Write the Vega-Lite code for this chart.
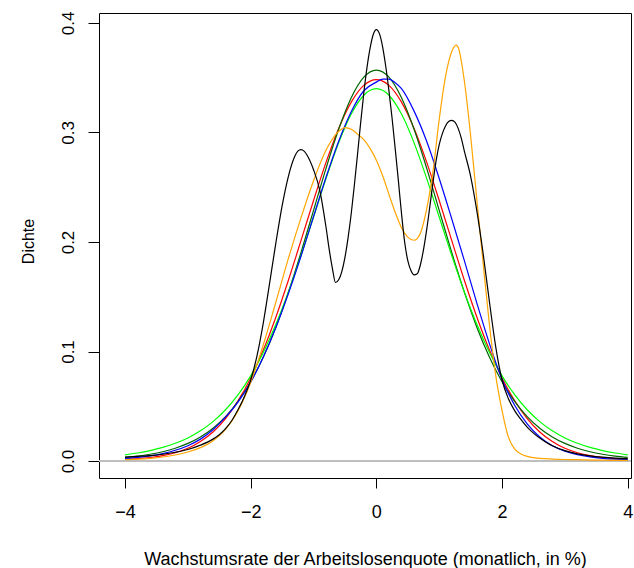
{
  "$schema": "https://vega.github.io/schema/vega-lite/v6.json",
  "width": 532,
  "height": 465,
  "autosize": "none",
  "padding": {"left": 99, "top": 13, "right": 3, "bottom": 90},
  "background": "white",
  "config": {"font": "Liberation Sans", "view": {"stroke": "black", "strokeWidth": 1}},
  "data": {"values": [
    {"x": -4.0, "y": 0.0016, "c": "red"}, {"x": -3.8, "y": 0.0022, "c": "red"}, {"x": -3.6, "y": 0.0032, "c": "red"}, {"x": -3.4, "y": 0.0049, "c": "red"}, {"x": -3.2, "y": 0.0076, "c": "red"}, {"x": -3.0, "y": 0.0116, "c": "red"}, {"x": -2.8, "y": 0.0178, "c": "red"}, {"x": -2.6, "y": 0.0265, "c": "red"}, {"x": -2.4, "y": 0.0388, "c": "red"}, {"x": -2.2, "y": 0.0551, "c": "red"}, {"x": -2.0, "y": 0.0759, "c": "red"}, {"x": -1.8, "y": 0.1013, "c": "red"}, {"x": -1.6, "y": 0.1313, "c": "red"}, {"x": -1.4, "y": 0.1651, "c": "red"}, {"x": -1.2, "y": 0.2012, "c": "red"}, {"x": -1.0, "y": 0.2379, "c": "red"}, {"x": -0.8, "y": 0.2729, "c": "red"}, {"x": -0.6, "y": 0.3037, "c": "red"}, {"x": -0.4, "y": 0.3277, "c": "red"}, {"x": -0.2, "y": 0.3430, "c": "red"}, {"x": 0.0, "y": 0.3483, "c": "red"}, {"x": 0.2, "y": 0.3430, "c": "red"}, {"x": 0.4, "y": 0.3277, "c": "red"}, {"x": 0.6, "y": 0.3037, "c": "red"}, {"x": 0.8, "y": 0.2729, "c": "red"}, {"x": 1.0, "y": 0.2379, "c": "red"}, {"x": 1.2, "y": 0.2012, "c": "red"}, {"x": 1.4, "y": 0.1651, "c": "red"}, {"x": 1.6, "y": 0.1313, "c": "red"}, {"x": 1.8, "y": 0.1013, "c": "red"}, {"x": 2.0, "y": 0.0759, "c": "red"}, {"x": 2.2, "y": 0.0551, "c": "red"}, {"x": 2.4, "y": 0.0388, "c": "red"}, {"x": 2.6, "y": 0.0265, "c": "red"}, {"x": 2.8, "y": 0.0178, "c": "red"}, {"x": 3.0, "y": 0.0116, "c": "red"}, {"x": 3.2, "y": 0.0076, "c": "red"}, {"x": 3.4, "y": 0.0049, "c": "red"}, {"x": 3.6, "y": 0.0032, "c": "red"}, {"x": 3.8, "y": 0.0022, "c": "red"}, {"x": 4.0, "y": 0.0016, "c": "red"},

    {"x": -4.0, "y": 0.0033, "c": "darkgreen"}, {"x": -3.8, "y": 0.0045, "c": "darkgreen"}, {"x": -3.6, "y": 0.0062, "c": "darkgreen"}, {"x": -3.4, "y": 0.0085, "c": "darkgreen"}, {"x": -3.2, "y": 0.0117, "c": "darkgreen"}, {"x": -3.0, "y": 0.0161, "c": "darkgreen"}, {"x": -2.8, "y": 0.0220, "c": "darkgreen"}, {"x": -2.6, "y": 0.0300, "c": "darkgreen"}, {"x": -2.4, "y": 0.0406, "c": "darkgreen"}, {"x": -2.2, "y": 0.0545, "c": "darkgreen"}, {"x": -2.0, "y": 0.0724, "c": "darkgreen"}, {"x": -1.8, "y": 0.0948, "c": "darkgreen"}, {"x": -1.6, "y": 0.1220, "c": "darkgreen"}, {"x": -1.4, "y": 0.1542, "c": "darkgreen"}, {"x": -1.2, "y": 0.1903, "c": "darkgreen"}, {"x": -1.0, "y": 0.2289, "c": "darkgreen"}, {"x": -0.8, "y": 0.2675, "c": "darkgreen"}, {"x": -0.6, "y": 0.3029, "c": "darkgreen"}, {"x": -0.4, "y": 0.3317, "c": "darkgreen"}, {"x": -0.2, "y": 0.3505, "c": "darkgreen"}, {"x": 0.0, "y": 0.3570, "c": "darkgreen"}, {"x": 0.2, "y": 0.3505, "c": "darkgreen"}, {"x": 0.4, "y": 0.3317, "c": "darkgreen"}, {"x": 0.6, "y": 0.3029, "c": "darkgreen"}, {"x": 0.8, "y": 0.2675, "c": "darkgreen"}, {"x": 1.0, "y": 0.2289, "c": "darkgreen"}, {"x": 1.2, "y": 0.1903, "c": "darkgreen"}, {"x": 1.4, "y": 0.1542, "c": "darkgreen"}, {"x": 1.6, "y": 0.1220, "c": "darkgreen"}, {"x": 1.8, "y": 0.0948, "c": "darkgreen"}, {"x": 2.0, "y": 0.0724, "c": "darkgreen"}, {"x": 2.2, "y": 0.0545, "c": "darkgreen"}, {"x": 2.4, "y": 0.0406, "c": "darkgreen"}, {"x": 2.6, "y": 0.0300, "c": "darkgreen"}, {"x": 2.8, "y": 0.0220, "c": "darkgreen"}, {"x": 3.0, "y": 0.0161, "c": "darkgreen"}, {"x": 3.2, "y": 0.0117, "c": "darkgreen"}, {"x": 3.4, "y": 0.0085, "c": "darkgreen"}, {"x": 3.6, "y": 0.0062, "c": "darkgreen"}, {"x": 3.8, "y": 0.0045, "c": "darkgreen"}, {"x": 4.0, "y": 0.0033, "c": "darkgreen"},

    {"x": -4.0, "y": 0.0057, "c": "green"}, {"x": -3.8, "y": 0.0073, "c": "green"}, {"x": -3.6, "y": 0.0095, "c": "green"}, {"x": -3.4, "y": 0.0124, "c": "green"}, {"x": -3.2, "y": 0.0162, "c": "green"}, {"x": -3.0, "y": 0.0211, "c": "green"}, {"x": -2.8, "y": 0.0276, "c": "green"}, {"x": -2.6, "y": 0.0360, "c": "green"}, {"x": -2.4, "y": 0.0468, "c": "green"}, {"x": -2.2, "y": 0.0606, "c": "green"}, {"x": -2.0, "y": 0.0778, "c": "green"}, {"x": -1.8, "y": 0.0991, "c": "green"}, {"x": -1.6, "y": 0.1246, "c": "green"}, {"x": -1.4, "y": 0.1543, "c": "green"}, {"x": -1.2, "y": 0.1875, "c": "green"}, {"x": -1.0, "y": 0.2228, "c": "green"}, {"x": -0.8, "y": 0.2581, "c": "green"}, {"x": -0.6, "y": 0.2905, "c": "green"}, {"x": -0.4, "y": 0.3168, "c": "green"}, {"x": -0.2, "y": 0.3340, "c": "green"}, {"x": 0.0, "y": 0.3400, "c": "green"}, {"x": 0.2, "y": 0.3340, "c": "green"}, {"x": 0.4, "y": 0.3168, "c": "green"}, {"x": 0.6, "y": 0.2905, "c": "green"}, {"x": 0.8, "y": 0.2581, "c": "green"}, {"x": 1.0, "y": 0.2228, "c": "green"}, {"x": 1.2, "y": 0.1875, "c": "green"}, {"x": 1.4, "y": 0.1543, "c": "green"}, {"x": 1.6, "y": 0.1246, "c": "green"}, {"x": 1.8, "y": 0.0991, "c": "green"}, {"x": 2.0, "y": 0.0778, "c": "green"}, {"x": 2.2, "y": 0.0606, "c": "green"}, {"x": 2.4, "y": 0.0468, "c": "green"}, {"x": 2.6, "y": 0.0360, "c": "green"}, {"x": 2.8, "y": 0.0276, "c": "green"}, {"x": 3.0, "y": 0.0211, "c": "green"}, {"x": 3.2, "y": 0.0162, "c": "green"}, {"x": 3.4, "y": 0.0124, "c": "green"}, {"x": 3.6, "y": 0.0095, "c": "green"}, {"x": 3.8, "y": 0.0073, "c": "green"}, {"x": 4.0, "y": 0.0057, "c": "green"},

    {"x": -4.0, "y": 0.0023, "c": "blue"}, {"x": -3.8, "y": 0.0033, "c": "blue"}, {"x": -3.6, "y": 0.0047, "c": "blue"}, {"x": -3.4, "y": 0.0068, "c": "blue"}, {"x": -3.2, "y": 0.0098, "c": "blue"}, {"x": -3.0, "y": 0.0140, "c": "blue"}, {"x": -2.8, "y": 0.0200, "c": "blue"}, {"x": -2.6, "y": 0.0285, "c": "blue"}, {"x": -2.4, "y": 0.0400, "c": "blue"}, {"x": -2.2, "y": 0.0540, "c": "blue"}, {"x": -2.0, "y": 0.0720, "c": "blue"}, {"x": -1.8, "y": 0.0950, "c": "blue"}, {"x": -1.6, "y": 0.1220, "c": "blue"}, {"x": -1.4, "y": 0.1530, "c": "blue"}, {"x": -1.2, "y": 0.1870, "c": "blue"}, {"x": -1.0, "y": 0.2233, "c": "blue"}, {"x": -0.8, "y": 0.2593, "c": "blue"}, {"x": -0.6, "y": 0.2920, "c": "blue"}, {"x": -0.4, "y": 0.3190, "c": "blue"}, {"x": -0.2, "y": 0.3381, "c": "blue"}, {"x": 0.0, "y": 0.3460, "c": "blue"}, {"x": 0.1, "y": 0.3487, "c": "blue"}, {"x": 0.2, "y": 0.3487, "c": "blue"}, {"x": 0.3, "y": 0.3455, "c": "blue"}, {"x": 0.4, "y": 0.3400, "c": "blue"}, {"x": 0.6, "y": 0.3195, "c": "blue"}, {"x": 0.8, "y": 0.2920, "c": "blue"}, {"x": 1.0, "y": 0.2580, "c": "blue"}, {"x": 1.2, "y": 0.2210, "c": "blue"}, {"x": 1.4, "y": 0.1830, "c": "blue"}, {"x": 1.6, "y": 0.1440, "c": "blue"}, {"x": 1.8, "y": 0.1070, "c": "blue"}, {"x": 2.0, "y": 0.0745, "c": "blue"}, {"x": 2.2, "y": 0.0510, "c": "blue"}, {"x": 2.4, "y": 0.0340, "c": "blue"}, {"x": 2.6, "y": 0.0220, "c": "blue"}, {"x": 2.8, "y": 0.0140, "c": "blue"}, {"x": 3.0, "y": 0.0090, "c": "blue"}, {"x": 3.2, "y": 0.0058, "c": "blue"}, {"x": 3.4, "y": 0.0038, "c": "blue"}, {"x": 3.6, "y": 0.0025, "c": "blue"}, {"x": 3.8, "y": 0.0017, "c": "blue"}, {"x": 4.0, "y": 0.0012, "c": "blue"},

    {"x": -4.0, "y": 0.0012, "c": "orange"}, {"x": -3.8, "y": 0.0017, "c": "orange"}, {"x": -3.6, "y": 0.0025, "c": "orange"}, {"x": -3.4, "y": 0.0037, "c": "orange"}, {"x": -3.2, "y": 0.0055, "c": "orange"}, {"x": -3.0, "y": 0.0082, "c": "orange"}, {"x": -2.8, "y": 0.0122, "c": "orange"}, {"x": -2.6, "y": 0.0185, "c": "orange"}, {"x": -2.4, "y": 0.0290, "c": "orange"}, {"x": -2.2, "y": 0.0460, "c": "orange"}, {"x": -2.0, "y": 0.0720, "c": "orange"}, {"x": -1.8, "y": 0.1060, "c": "orange"}, {"x": -1.6, "y": 0.1450, "c": "orange"}, {"x": -1.4, "y": 0.1850, "c": "orange"}, {"x": -1.2, "y": 0.2220, "c": "orange"}, {"x": -1.0, "y": 0.2560, "c": "orange"}, {"x": -0.8, "y": 0.2840, "c": "orange"}, {"x": -0.6, "y": 0.3010, "c": "orange"}, {"x": -0.5, "y": 0.3045, "c": "orange"}, {"x": -0.4, "y": 0.3030, "c": "orange"}, {"x": -0.3, "y": 0.2985, "c": "orange"}, {"x": -0.2, "y": 0.2935, "c": "orange"}, {"x": -0.1, "y": 0.2855, "c": "orange"}, {"x": 0.0, "y": 0.2746, "c": "orange"}, {"x": 0.1, "y": 0.2605, "c": "orange"}, {"x": 0.2, "y": 0.2435, "c": "orange"}, {"x": 0.3, "y": 0.2270, "c": "orange"}, {"x": 0.4, "y": 0.2130, "c": "orange"}, {"x": 0.5, "y": 0.2045, "c": "orange"}, {"x": 0.6, "y": 0.2016, "c": "orange"}, {"x": 0.7, "y": 0.2080, "c": "orange"}, {"x": 0.8, "y": 0.2300, "c": "orange"}, {"x": 0.9, "y": 0.2640, "c": "orange"}, {"x": 1.0, "y": 0.3120, "c": "orange"}, {"x": 1.1, "y": 0.3510, "c": "orange"}, {"x": 1.2, "y": 0.3740, "c": "orange"}, {"x": 1.27, "y": 0.3797, "c": "orange"}, {"x": 1.3, "y": 0.3780, "c": "orange"}, {"x": 1.4, "y": 0.3470, "c": "orange"}, {"x": 1.5, "y": 0.2970, "c": "orange"}, {"x": 1.6, "y": 0.2380, "c": "orange"}, {"x": 1.7, "y": 0.1800, "c": "orange"}, {"x": 1.8, "y": 0.1240, "c": "orange"}, {"x": 1.9, "y": 0.0780, "c": "orange"}, {"x": 2.0, "y": 0.0460, "c": "orange"}, {"x": 2.1, "y": 0.0220, "c": "orange"}, {"x": 2.2, "y": 0.0110, "c": "orange"}, {"x": 2.3, "y": 0.0065, "c": "orange"}, {"x": 2.4, "y": 0.0042, "c": "orange"}, {"x": 2.6, "y": 0.0025, "c": "orange"}, {"x": 2.8, "y": 0.0018, "c": "orange"}, {"x": 3.0, "y": 0.0014, "c": "orange"}, {"x": 3.2, "y": 0.0012, "c": "orange"}, {"x": 3.5, "y": 0.0009, "c": "orange"}, {"x": 4.0, "y": 0.0006, "c": "orange"},

    {"x": -4.0, "y": 0.0035, "c": "black"}, {"x": -3.8, "y": 0.0042, "c": "black"}, {"x": -3.6, "y": 0.0050, "c": "black"}, {"x": -3.4, "y": 0.0062, "c": "black"}, {"x": -3.2, "y": 0.0080, "c": "black"}, {"x": -3.0, "y": 0.0105, "c": "black"}, {"x": -2.8, "y": 0.0145, "c": "black"}, {"x": -2.6, "y": 0.0200, "c": "black"}, {"x": -2.5, "y": 0.0240, "c": "black"}, {"x": -2.4, "y": 0.0295, "c": "black"}, {"x": -2.3, "y": 0.0370, "c": "black"}, {"x": -2.2, "y": 0.0470, "c": "black"}, {"x": -2.1, "y": 0.0590, "c": "black"}, {"x": -2.0, "y": 0.0740, "c": "black"}, {"x": -1.9, "y": 0.0960, "c": "black"}, {"x": -1.8, "y": 0.1260, "c": "black"}, {"x": -1.7, "y": 0.1620, "c": "black"}, {"x": -1.6, "y": 0.1990, "c": "black"}, {"x": -1.5, "y": 0.2330, "c": "black"}, {"x": -1.4, "y": 0.2600, "c": "black"}, {"x": -1.3, "y": 0.2780, "c": "black"}, {"x": -1.25, "y": 0.2830, "c": "black"}, {"x": -1.2, "y": 0.2844, "c": "black"}, {"x": -1.15, "y": 0.2830, "c": "black"}, {"x": -1.1, "y": 0.2790, "c": "black"}, {"x": -1.0, "y": 0.2660, "c": "black"}, {"x": -0.9, "y": 0.2470, "c": "black"}, {"x": -0.8, "y": 0.2130, "c": "black"}, {"x": -0.75, "y": 0.1930, "c": "black"}, {"x": -0.7, "y": 0.1760, "c": "black"}, {"x": -0.65, "y": 0.1630, "c": "black"}, {"x": -0.6, "y": 0.1655, "c": "black"}, {"x": -0.55, "y": 0.1730, "c": "black"}, {"x": -0.5, "y": 0.1860, "c": "black"}, {"x": -0.45, "y": 0.2040, "c": "black"}, {"x": -0.4, "y": 0.2260, "c": "black"}, {"x": -0.35, "y": 0.2520, "c": "black"}, {"x": -0.3, "y": 0.2800, "c": "black"}, {"x": -0.25, "y": 0.3090, "c": "black"}, {"x": -0.2, "y": 0.3360, "c": "black"}, {"x": -0.15, "y": 0.3590, "c": "black"}, {"x": -0.1, "y": 0.3770, "c": "black"}, {"x": -0.05, "y": 0.3895, "c": "black"}, {"x": 0.0, "y": 0.3940, "c": "black"}, {"x": 0.05, "y": 0.3900, "c": "black"}, {"x": 0.1, "y": 0.3780, "c": "black"}, {"x": 0.15, "y": 0.3600, "c": "black"}, {"x": 0.2, "y": 0.3380, "c": "black"}, {"x": 0.25, "y": 0.3130, "c": "black"}, {"x": 0.3, "y": 0.2850, "c": "black"}, {"x": 0.35, "y": 0.2560, "c": "black"}, {"x": 0.4, "y": 0.2260, "c": "black"}, {"x": 0.45, "y": 0.2000, "c": "black"}, {"x": 0.5, "y": 0.1830, "c": "black"}, {"x": 0.55, "y": 0.1740, "c": "black"}, {"x": 0.6, "y": 0.1700, "c": "black"}, {"x": 0.65, "y": 0.1710, "c": "black"}, {"x": 0.7, "y": 0.1790, "c": "black"}, {"x": 0.75, "y": 0.1930, "c": "black"}, {"x": 0.8, "y": 0.2110, "c": "black"}, {"x": 0.85, "y": 0.2320, "c": "black"}, {"x": 0.9, "y": 0.2540, "c": "black"}, {"x": 0.95, "y": 0.2740, "c": "black"}, {"x": 1.0, "y": 0.2890, "c": "black"}, {"x": 1.05, "y": 0.2990, "c": "black"}, {"x": 1.1, "y": 0.3060, "c": "black"}, {"x": 1.15, "y": 0.3100, "c": "black"}, {"x": 1.2, "y": 0.3111, "c": "black"}, {"x": 1.25, "y": 0.3095, "c": "black"}, {"x": 1.3, "y": 0.3040, "c": "black"}, {"x": 1.35, "y": 0.2950, "c": "black"}, {"x": 1.4, "y": 0.2830, "c": "black"}, {"x": 1.5, "y": 0.2600, "c": "black"}, {"x": 1.6, "y": 0.2280, "c": "black"}, {"x": 1.7, "y": 0.1890, "c": "black"}, {"x": 1.8, "y": 0.1450, "c": "black"}, {"x": 1.9, "y": 0.1040, "c": "black"}, {"x": 2.0, "y": 0.0740, "c": "black"}, {"x": 2.1, "y": 0.0570, "c": "black"}, {"x": 2.2, "y": 0.0460, "c": "black"}, {"x": 2.3, "y": 0.0380, "c": "black"}, {"x": 2.4, "y": 0.0310, "c": "black"}, {"x": 2.5, "y": 0.0255, "c": "black"}, {"x": 2.6, "y": 0.0210, "c": "black"}, {"x": 2.7, "y": 0.0172, "c": "black"}, {"x": 2.8, "y": 0.0140, "c": "black"}, {"x": 3.0, "y": 0.0095, "c": "black"}, {"x": 3.2, "y": 0.0066, "c": "black"}, {"x": 3.4, "y": 0.0047, "c": "black"}, {"x": 3.6, "y": 0.0035, "c": "black"}, {"x": 3.8, "y": 0.0027, "c": "black"}, {"x": 4.0, "y": 0.0022, "c": "black"}
  ]},
  "layer": [
    {
      "mark": {"type": "rule", "color": "#BEBEBE", "strokeWidth": 1},
      "encoding": {"y": {"datum": 0, "type": "quantitative"}}
    },
    {
      "mark": {"type": "line", "strokeWidth": 1.2, "interpolate": "monotone"},
      "encoding": {
        "x": {
          "field": "x", "type": "quantitative",
          "scale": {"domain": [-4.414, 4.052], "nice": false, "zero": false},
          "axis": {
            "values": [-4, -2, 0, 2, 4], "format": "d", "grid": false, "domain": false,
            "tickColor": "black", "tickSize": 10, "tickWidth": 1,
            "labelFontSize": 18, "labelColor": "black", "labelBaseline": "alphabetic", "labelPadding": 29,
            "title": "Wachstumsrate der Arbeitslosenquote (monatlich, in %)",
            "titleFontSize": 18, "titleFontWeight": "normal", "titleColor": "black",
            "titleX": 266, "titleY": 86, "titleAlign": "center", "titleBaseline": "alphabetic"
          }
        },
        "y": {
          "field": "y", "type": "quantitative",
          "scale": {"domain": [-0.0155, 0.4091], "nice": false, "zero": false},
          "axis": {
            "values": [0, 0.1, 0.2, 0.3, 0.4], "format": ".1f", "grid": false, "domain": false,
            "tickColor": "black", "tickSize": 11, "tickWidth": 1,
            "labelFontSize": 17, "labelColor": "black", "labelAngle": -90, "labelAlign": "center", "labelBaseline": "alphabetic", "labelPadding": 15,
            "title": "Dichte",
            "titleFontSize": 16, "titleFontWeight": "normal", "titleColor": "black",
            "titleAngle": -90, "titleX": -66, "titleY": 228, "titleAlign": "center", "titleBaseline": "alphabetic"
          }
        },
        "color": {
          "field": "c", "type": "nominal", "legend": null,
          "scale": {"domain": ["black", "orange", "darkgreen", "red", "blue", "green"], "range": ["#000000", "#FFA500", "#006400", "#FF0000", "#0000FF", "#00FF00"]}
        }
      }
    }
  ]
}
